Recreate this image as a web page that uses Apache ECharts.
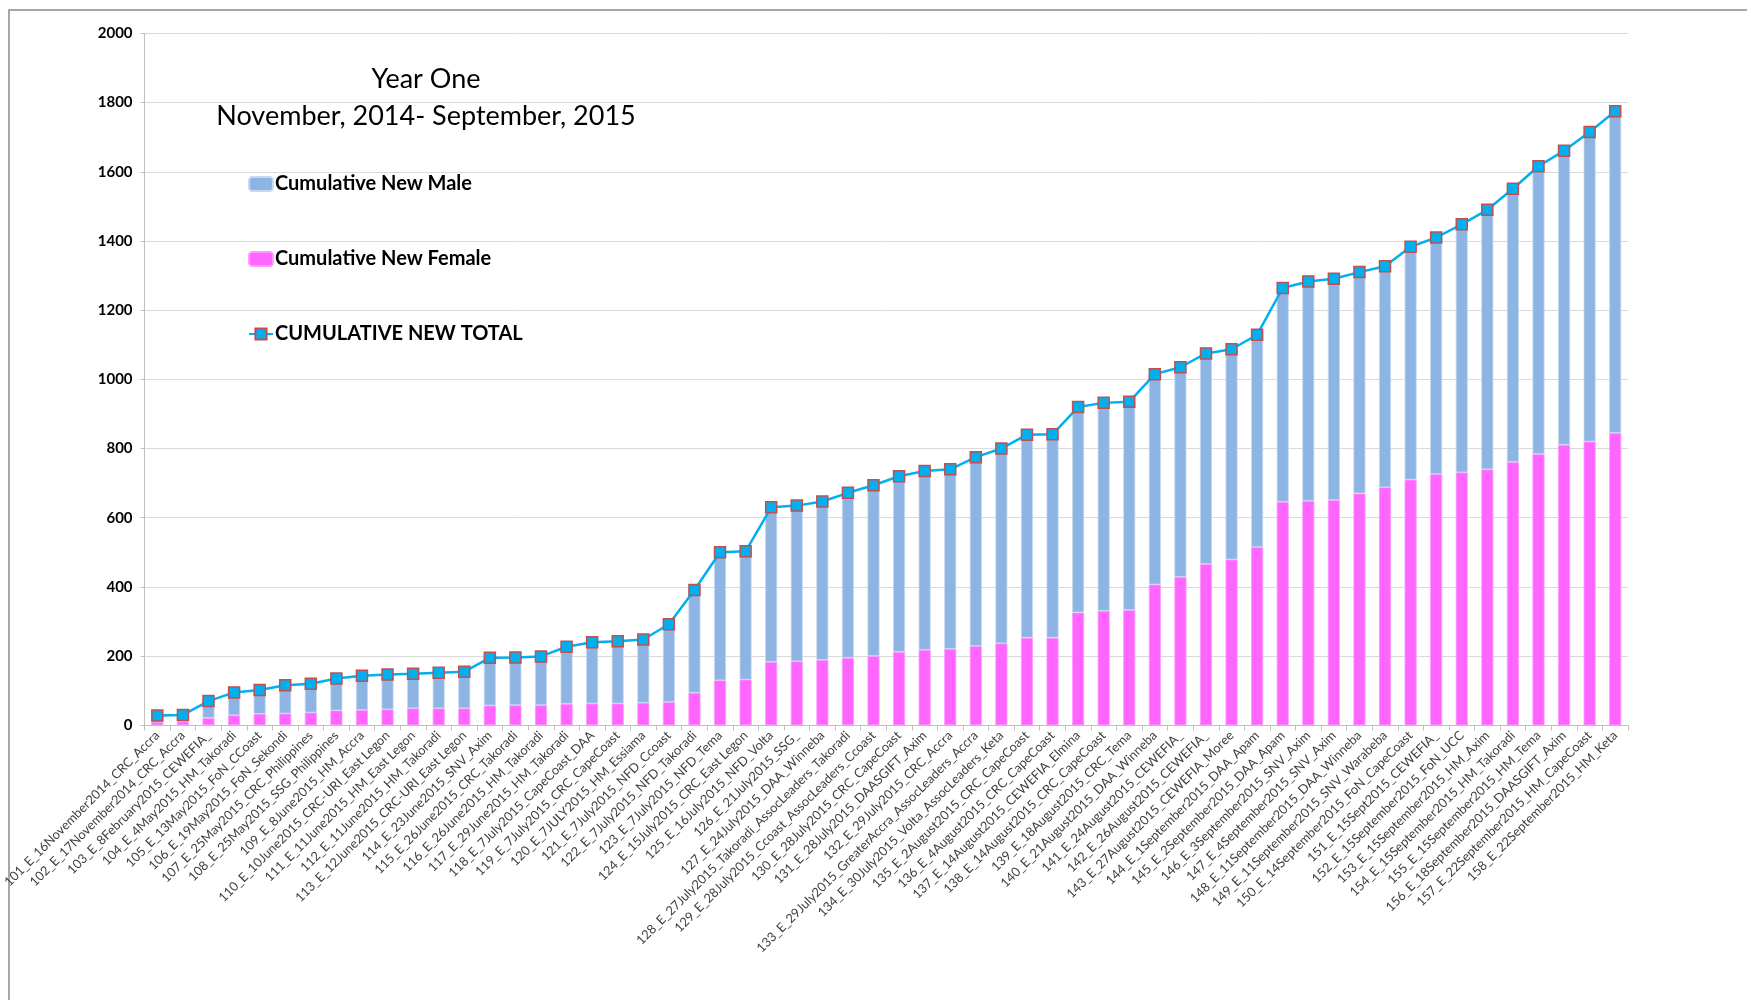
<!DOCTYPE html>
<html>
<head>
<meta charset="utf-8">
<script src="https://cdn.jsdelivr.net/npm/echarts@6/dist/echarts.min.js"></script>
<style>html,body{margin:0;padding:0;background:#fff;}#c{width:1747px;height:1000px;}</style>
</head>
<body>
<div id="c"></div>
<script>
var categories = [
"101_E_16November2014_CRC_Accra","102_E_17November2014_CRC_Accra","103_E_8February2015_CEWEFIA_","104_E_4May2015_HM_Takoradi","105_E_13May2015_FoN_CCoast","106_E_19May2015_FoN_Sekondi","107_E_25May2015_CRC_Philippines","108_E_25May2015_SSG_Philippines","109_E_8June2015_HM_Accra","110_E_10June2015_CRC-URI_East Legon",
"111_E_11June2015_HM_East Legon","112_E_11June2015_HM_Takoradi","113_E_12June2015_CRC-URI_East Legon","114_E_23June2015_SNV_Axim","115_E_26June2015_CRC_Takoradi","116_E_26June2015_HM_Takoradi","117_E_29June2015_HM_Takoradi","118_E_7July2015_CapeCoast_DAA","119_E_7July2015_CRC_CapeCoast","120_E_7JULY2015_HM_Essiama",
"121_E_7July2015_NFD_Ccoast","122_E_7July2015_NFD_Takoradi","123_E_7July2015_NFD_Tema","124_E_15July2015_CRC_East Legon","125_E_16July2015_NFD_Volta","126_E_21July2015_SSG_","127_E_24July2015_DAA_Winneba","128_E_27July2015_Takoradi_AssocLeaders_Takoradi","129_E_28July2015_Ccoast_AssocLeaders_Ccoast","130_E_28July2015_CRC_CapeCoast",
"131_E_28July2015_DAASGIFT_Axim","132_E_29July2015_CRC_Accra","133_E_29July2015_GreaterAccra_AssocLeaders_Accra","134_E_30July2015_Volta_AssocLeaders_Keta","135_E_2August2015_CRC_CapeCoast","136_E_4August2015_CRC_CapeCoast","137_E_14August2015_CEWEFIA_Elmina","138_E_14August2015_CRC_CapeCoast","139_E_18August2015_CRC_Tema","140_E_21August2015_DAA_Winneba",
"141_E_24August2015_CEWEFIA_","142_E_26August2015_CEWEFIA_","143_E_27August2015_CEWEFIA_Moree","144_E_1September2015_DAA_Apam","145_E_2September2015_DAA_Apam","146_E_3September2015_SNV_Axim","147_E_4September2015_SNV_Axim","148_E_11September2015_DAA_Winneba","149_E_11September2015_SNV_Warabeba","150_E_14September2015_FoN_CapeCoast",
"151_E_15Sept2015_CEWEFIA_","152_E_15September2015_FoN_UCC","153_E_15September2015_HM_Axim","154_E_15September2015_HM_Takoradi","155_E_15September2015_HM_Tema","156_E_18September2015_DAASGIFT_Axim","157_E_22September2015_HM_CapeCoast","158_E_22September2015_HM_Keta"
];
var femaleValues = [10,11,21,29,33,34,37,43,44,46, 49,49,49,57,58,58,62,63,63,65, 67,94,130,132,183,185,189,195,200,212, 218,221,229,237,253,253,326,331,333,407, 429,466,479,515,646,649,651,670,688,710, 726,731,740,761,784,811,820,845];
var maleValues = [18,19,49,66,69,82,83,92,99,101, 100,103,106,138,138,141,165,177,180,183, 225,297,370,371,447,450,458,477,494,508, 517,519,546,563,587,588,594,601,602,608, 606,609,608,614,618,634,640,640,639,673, 684,717,750,790,832,850,895,930];
var totalValues = [28,30,70,95,102,116,120,135,143,147, 149,152,155,195,196,199,227,240,243,248, 292,391,500,503,630,635,647,672,694,720, 735,740,775,800,840,841,920,932,935,1015, 1035,1075,1087,1129,1264,1283,1291,1310,1327,1383, 1410,1448,1490,1551,1616,1661,1715,1775];
var yTicks = {min: 0, max: 2000, interval: 200};

var chart = echarts.init(document.getElementById('c'));
var font = 'Lato, "Open Sans", sans-serif';
chart.setOption({
  animation: false,
  backgroundColor: '#fff',
  textStyle: {fontFamily: font},
  title: {
    text: 'Year One\nNovember, 2014- September, 2015',
    left: 421, top: 56, textAlign: 'center',
    textStyle: {fontFamily: font, fontSize: 27, fontWeight: 'normal', color: '#000', lineHeight: 37}
  },
  legend: {
    orient: 'vertical', left: 248, top: 174, padding: 0,
    itemGap: 55, itemWidth: 24, itemHeight: 14,
    data: ['Cumulative New Male', 'Cumulative New Female', 'CUMULATIVE NEW TOTAL'],
    textStyle: {fontFamily: font, fontSize: 20, fontWeight: 'bold', color: '#000', lineHeight: 20, padding: [0,0,0,-3]}
  },
  graphic: [{
    type: 'rect', silent: true,
    shape: {x: 9, y: 10, width: 1800, height: 1100},
    style: {fill: 'none', stroke: '#8c8c8c', lineWidth: 1.5}
  }],
  grid: {left: 133, right: 119, top: 33.4, bottom: 274.7, containLabel: false},
  xAxis: {
    type: 'category', data: categories,
    axisLine: {lineStyle: {color: '#BFBFBF', width: 1}},
    axisTick: {show: true, length: 5, lineStyle: {color: '#BFBFBF'}},
    axisLabel: {interval: 0, rotate: 45, fontSize: 12.8, color: '#404040', fontFamily: font, margin: 8}
  },
  yAxis: {
    type: 'value', min: yTicks.min, max: yTicks.max, interval: yTicks.interval,
    axisLine: {show: true, lineStyle: {color: '#BFBFBF'}},
    axisTick: {show: true, length: 4, lineStyle: {color: '#BFBFBF'}},
    splitLine: {lineStyle: {color: '#D9D9D9', width: 1}},
    axisLabel: {fontSize: 15, fontWeight: 'bold', color: '#000', fontFamily: font, margin: 12,
      formatter: function (v) { return String(v); }}
  },
  series: [
    {name: 'Cumulative New Female', type: 'bar', stack: 'g', data: femaleValues, barWidth: '47%',
     itemStyle: {color: '#FF66FF', borderColor: '#FF99FF', borderWidth: 0.8}},
    {name: 'Cumulative New Male', type: 'bar', stack: 'g', data: maleValues, barWidth: '47%',
     itemStyle: {color: '#8EB4E3', borderColor: '#C6D9F1', borderWidth: 0.8}},
    {name: 'CUMULATIVE NEW TOTAL', type: 'line', data: totalValues, z: 5,
     symbol: 'rect', symbolSize: 11,
     lineStyle: {color: '#00B0F0', width: 2.5},
     itemStyle: {color: '#00B0F0', borderColor: '#C0504D', borderWidth: 1.5}}
  ]
});
</script>
</body>
</html>
